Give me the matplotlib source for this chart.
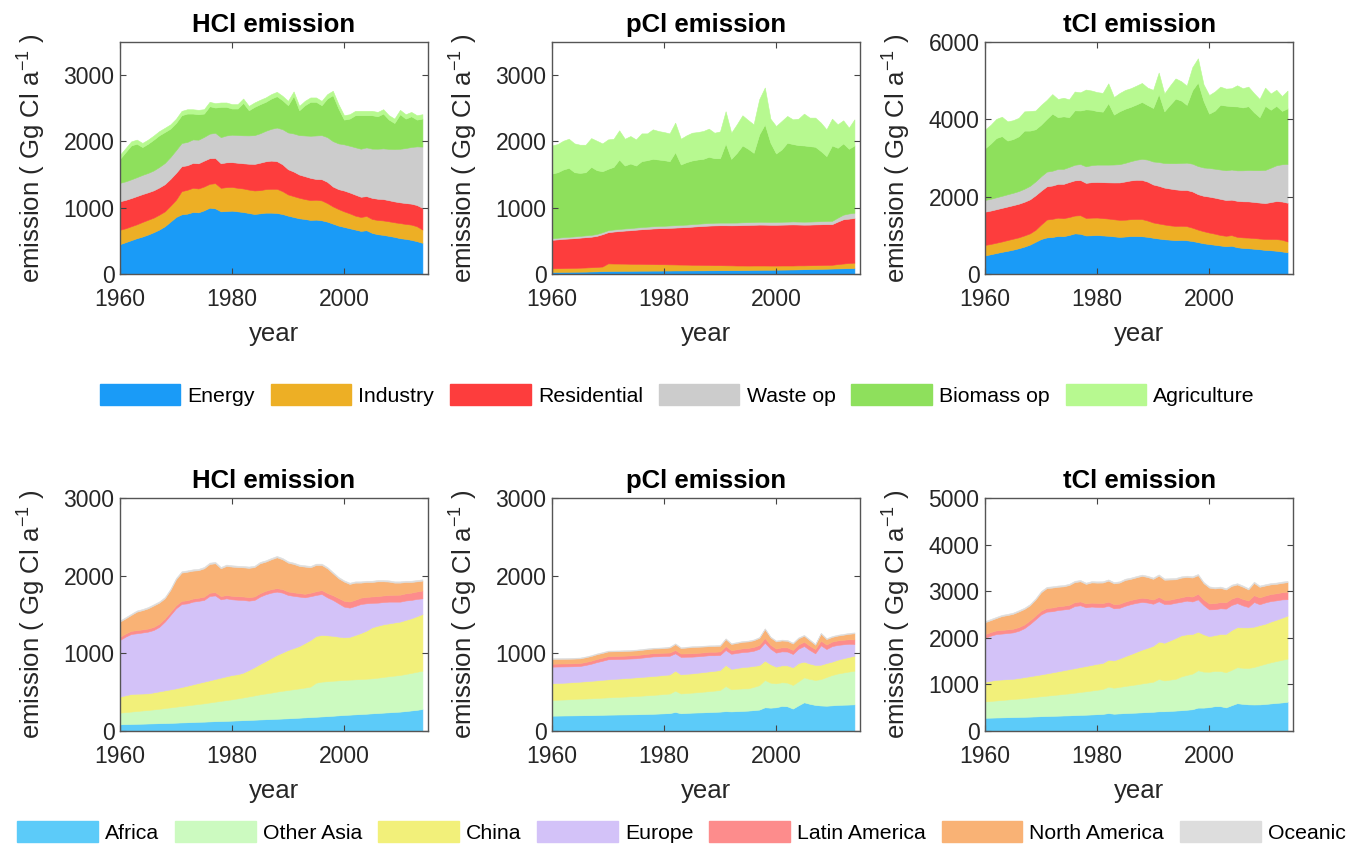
import numpy as np
import matplotlib
matplotlib.use('Agg')
import matplotlib.pyplot as plt
from matplotlib.patches import Patch

plt.rcParams['font.family'] = ['Liberation Sans', 'DejaVu Sans']
plt.rcParams['mathtext.default'] = 'regular'

# years 1960-2014
years = list(range(1960, 2015))

# ---- sector split, HCl (Gg Cl / yr) ----
hcl_energy = [450, 480, 510, 540, 565, 595, 630, 670, 720, 790,
              860, 900, 910, 935, 930, 960, 1000, 990, 945, 950,
              955, 945, 935, 920, 905, 915, 925, 925, 920, 905,
              880, 860, 840, 830, 815, 820, 810, 790, 760, 730,
              710, 690, 670, 650, 660, 620, 600, 590, 575, 560,
              540, 530, 515, 495, 470]
hcl_industry = [217, 210, 210, 210, 220, 223, 220, 225, 225, 240,
                260, 350, 360, 365, 360, 360, 360, 380, 355, 360,
                358, 355, 355, 353, 355, 350, 355, 360, 365, 345,
                320, 315, 310, 300, 300, 300, 300, 280, 260, 250,
                235, 225, 210, 210, 215, 210, 215, 218, 220, 220,
                228, 225, 230, 225, 200]
hcl_residential = [430, 428, 425, 425, 420, 414, 412, 410, 410, 405,
                   405, 376, 370, 375, 380, 390, 387, 380, 370, 375,
                   374, 378, 380, 390, 400, 414, 420, 425, 417, 405,
                   380, 370, 350, 345, 335, 313, 320, 320, 300, 300,
                   314, 315, 317, 305, 300, 318, 320, 322, 318, 315,
                   313, 315, 316, 320, 328]
hcl_waste = [278, 280, 283, 286, 290, 293, 300, 310, 320, 330,
             344, 350, 352, 355, 356, 358, 370, 380, 395, 405,
             414, 418, 422, 428, 435, 444, 460, 480, 507, 530,
             555, 575, 595, 615, 635, 657, 665, 675, 685, 690,
             697, 705, 715, 725, 735, 743, 755, 765, 775, 790,
             808, 830, 855, 885, 924]
hcl_biomass = [363, 441, 512, 504, 420, 440, 464, 477, 467, 428,
               409, 419, 428, 390, 384, 352, 414, 381, 456, 431,
               395, 400, 489, 379, 426, 438, 437, 457, 473, 437,
               411, 568, 375, 456, 512, 507, 451, 582, 693, 526,
               373, 409, 483, 505, 485, 504, 489, 525, 441, 393,
               521, 444, 463, 404, 422]
hcl_agri = [60, 60, 60, 62, 62, 62, 62, 63, 63, 64,
            64, 65, 65, 65, 66, 66, 66, 66, 66, 66,
            66, 66, 66, 66, 66, 66, 66, 66, 66, 66,
            66, 66, 66, 66, 66, 66, 66, 66, 66, 66,
            66, 66, 66, 66, 66, 66, 66, 66, 66, 66,
            66, 66, 66, 66, 66]

# ---- sector split, pCl ----
pcl_energy = [30, 31, 32, 33, 34, 35, 36, 38, 40, 43,
              45, 46, 47, 48, 48, 49, 50, 50, 51, 51,
              52, 52, 53, 53, 54, 54, 55, 55, 56, 56,
              57, 57, 58, 58, 59, 60, 62, 63, 64, 64,
              65, 66, 67, 68, 70, 72, 74, 76, 78, 80,
              82, 84, 86, 88, 91]
pcl_industry = [55, 56, 57, 58, 59, 60, 62, 64, 66, 70,
                115, 112, 110, 108, 106, 104, 102, 100, 98, 96,
                95, 93, 91, 89, 87, 85, 83, 81, 79, 77,
                76, 74, 72, 70, 69, 67, 66, 65, 64, 63,
                62, 62, 61, 60, 60, 58, 58, 57, 57, 57,
                57, 65, 72, 78, 80]
pcl_residential = [430, 435, 441, 444, 447, 453, 457, 460, 469, 487,
                   470, 482, 491, 499, 506, 515, 523, 530, 537, 543,
                   545, 551, 556, 562, 567, 575, 582, 589, 595, 600,
                   602, 604, 604, 607, 610, 613, 614, 617, 616, 615,
                   615, 616, 618, 620, 616, 614, 613, 615, 615, 615,
                   613, 641, 667, 669, 674]
pcl_waste = [25, 25, 26, 26, 27, 27, 28, 28, 29, 30,
             30, 31, 31, 32, 32, 33, 33, 34, 34, 35,
             35, 36, 36, 37, 37, 38, 38, 39, 39, 40,
             40, 40, 41, 41, 42, 42, 42, 43, 43, 43,
             44, 44, 44, 45, 45, 45, 46, 46, 47, 48,
             50, 60, 70, 78, 80]
pcl_biomass = [975, 988, 1020, 1040, 968, 950, 952, 1026, 962, 920,
               926, 945, 1048, 949, 975, 935, 994, 1003, 1017, 1002,
               990, 970, 1102, 911, 942, 960, 969, 973, 999, 974,
               972, 1195, 962, 1052, 1159, 1107, 1044, 1318, 1471, 1195,
               1032, 1091, 1190, 1167, 1153, 1150, 1138, 1125, 1057, 978,
               1137, 1054, 1075, 976, 1014]
pcl_agri = [424, 425, 434, 439, 435, 425, 415, 434, 444, 420,
            444, 424, 440, 404, 414, 394, 419, 404, 445, 430,
            424, 419, 445, 388, 404, 419, 414, 420, 424, 384,
            403, 485, 394, 430, 455, 434, 430, 530, 555, 363,
            414, 429, 404, 373, 399, 480, 430, 440, 429, 404,
            404, 354, 348, 318, 394]

# ---- regional split, HCl ----
rhcl_africa = [86, 88, 90, 92, 94, 96, 98, 100, 102, 104,
               107, 110, 112, 115, 118, 120, 123, 126, 128, 130,
               133, 136, 139, 142, 145, 148, 151, 154, 157, 160,
               163, 167, 171, 175, 179, 183, 187, 191, 196, 201,
               206, 210, 214, 218, 222, 227, 231, 236, 240, 245,
               249, 256, 264, 272, 283]
rhcl_oasia = [150, 155, 160, 165, 170, 174, 180, 186, 193, 200,
              206, 212, 218, 224, 230, 236, 244, 252, 260, 268,
              275, 284, 293, 303, 313, 324, 332, 340, 350, 358,
              365, 371, 377, 384, 392, 439, 448, 450, 451, 451,
              451, 451, 451, 451, 451, 451, 455, 460, 465, 468,
              472, 478, 484, 490, 494]
rhcl_china = [206, 217, 226, 223, 218, 215, 219, 224, 228, 232,
              236, 244, 253, 261, 270, 279, 285, 292, 299, 306,
              313, 311, 319, 340, 364, 391, 417, 446, 472, 492,
              515, 530, 546, 573, 601, 601, 601, 591, 578, 563,
              549, 551, 571, 593, 619, 657, 669, 677, 680, 684,
              687, 696, 703, 716, 729]
rhcl_europe = [730, 755, 773, 778, 786, 794, 803, 830, 885, 957,
               1030, 1069, 1060, 1065, 1057, 1052, 1086, 1075, 1008, 1004,
               974, 959, 936, 893, 865, 867, 860, 841, 815, 771,
               708, 672, 636, 589, 563, 528, 528, 489, 462, 429,
               395, 376, 374, 373, 352, 315, 297, 287, 280, 268,
               257, 250, 236, 222, 202]
rhcl_latam = [40, 40, 40, 40, 40, 40, 40, 40, 40, 40,
              40, 40, 40, 40, 40, 42, 42, 42, 42, 42,
              45, 45, 45, 45, 45, 45, 45, 45, 45, 45,
              45, 45, 45, 45, 45, 48, 50, 55, 60, 68,
              75, 78, 80, 82, 82, 82, 84, 85, 86, 88,
              90, 92, 94, 96, 100]
rhcl_namerica = [196, 195, 205, 238, 247, 260, 275, 272, 260, 282,
                 334, 364, 367, 359, 355, 365, 370, 372, 357, 375,
                 376, 375, 375, 377, 378, 384, 375, 384, 397, 384,
                 371, 365, 350, 350, 327, 338, 323, 318, 283, 254,
                 247, 227, 220, 193, 192, 186, 191, 182, 172, 157,
                 155, 146, 137, 131, 128]
rhcl_oceanic = [15, 15, 15, 15, 15, 16, 16, 16, 16, 16,
                17, 17, 17, 17, 17, 17, 17, 17, 17, 17,
                17, 17, 17, 17, 17, 17, 17, 17, 17, 17,
                17, 17, 17, 17, 17, 17, 17, 17, 17, 17,
                16, 16, 16, 16, 16, 16, 16, 16, 16, 16,
                16, 16, 16, 16, 16]

# ---- regional split, pCl ----
rpcl_africa = [197, 198, 199, 200, 201, 202, 203, 204, 206, 208,
               210, 211, 212, 213, 214, 215, 217, 219, 221, 224,
               227, 230, 245, 228, 232, 236, 238, 240, 243, 246,
               249, 255, 252, 255, 258, 262, 268, 275, 305, 300,
               305, 322, 318, 288, 330, 369, 350, 335, 328, 325,
               330, 335, 338, 340, 343]
rpcl_oasia = [202, 204, 206, 208, 211, 214, 215, 217, 219, 221,
              223, 225, 228, 230, 233, 236, 238, 241, 243, 246,
              249, 252, 274, 255, 257, 258, 262, 266, 270, 274,
              279, 324, 285, 288, 290, 287, 300, 315, 352, 322,
              309, 305, 305, 304, 310, 322, 320, 322, 340, 370,
              391, 405, 415, 425, 434]
rpcl_china = [215, 216, 216, 217, 218, 219, 222, 225, 227, 230,
              232, 234, 235, 237, 238, 240, 241, 242, 243, 244,
              245, 246, 258, 246, 247, 248, 250, 252, 254, 255,
              257, 271, 262, 268, 275, 279, 270, 258, 249, 238,
              214, 218, 222, 228, 235, 202, 198, 193, 185, 180,
              172, 178, 183, 188, 193]
rpcl_europe = [214, 212, 210, 207, 204, 202, 210, 220, 235, 245,
               258, 255, 252, 250, 248, 245, 248, 250, 253, 248,
               245, 240, 223, 225, 220, 215, 212, 210, 208, 200,
               194, 193, 195, 194, 193, 193, 195, 210, 231, 200,
               181, 180, 178, 171, 185, 201, 175, 150, 250, 180,
               200, 190, 180, 170, 150]
rpcl_latam = [38, 38, 38, 38, 38, 38, 39, 39, 40, 40,
              40, 40, 40, 40, 40, 41, 41, 41, 42, 42,
              42, 42, 43, 43, 43, 44, 44, 44, 45, 45,
              45, 50, 46, 47, 48, 48, 49, 50, 60, 50,
              52, 52, 53, 53, 54, 55, 55, 55, 60, 58,
              58, 58, 58, 58, 58]
rpcl_namerica = [60, 60, 60, 60, 60, 60, 60, 61, 61, 61,
                 61, 61, 60, 60, 60, 60, 60, 60, 59, 59,
                 59, 65, 75, 70, 75, 80, 78, 75, 72, 73,
                 73, 90, 80, 82, 84, 84, 86, 90, 115, 95,
                 92, 88, 85, 82, 80, 77, 70, 55, 90, 70,
                 60, 62, 65, 70, 80]
rpcl_oceanic = [10, 10, 10, 10, 10, 10, 10, 10, 10, 10,
                10, 10, 10, 10, 10, 10, 10, 10, 10, 10,
                10, 10, 10, 10, 10, 10, 10, 10, 10, 10,
                10, 10, 10, 10, 10, 10, 10, 10, 10, 10,
                11, 11, 11, 11, 11, 11, 11, 11, 11, 11,
                11, 11, 11, 11, 11]

sector_names = ['Energy', 'Industry', 'Residential', 'Waste op', 'Biomass op', 'Agriculture']
sector_colors = ['#1A9BF7', '#EDAF25', '#FD3D3D', '#CCCCCC', '#8EE05C', '#B7F990']
region_names = ['Africa', 'Other Asia', 'China', 'Europe', 'Latin America', 'North America', 'Oceanic']
region_colors = ['#5CCBF9', '#CCFAC0', '#F2F07A', '#D3C2F8', '#FD8C8C', '#F9B275', '#DDDDDD']

hcl_sectors = [hcl_energy, hcl_industry, hcl_residential, hcl_waste, hcl_biomass, hcl_agri]
pcl_sectors = [pcl_energy, pcl_industry, pcl_residential, pcl_waste, pcl_biomass, pcl_agri]
# total chlorine = HCl + particulate Cl
tcl_sectors = [np.add(a, b) for a, b in zip(hcl_sectors, pcl_sectors)]

hcl_regions = [rhcl_africa, rhcl_oasia, rhcl_china, rhcl_europe, rhcl_latam, rhcl_namerica, rhcl_oceanic]
pcl_regions = [rpcl_africa, rpcl_oasia, rpcl_china, rpcl_europe, rpcl_latam, rpcl_namerica, rpcl_oceanic]
tcl_regions = [np.add(a, b) for a, b in zip(hcl_regions, pcl_regions)]

fig = plt.figure(figsize=(13.71, 8.48), dpi=100)

lefts = [0.0875, 0.4026, 0.7185]
w = 0.2247
top_y, top_h = 0.6769, 0.2736
bot_y, bot_h = 0.138, 0.2748


def draw_panel(ax, layers, colors, title, ymax, ystep):
    polys = ax.stackplot(years, *layers, colors=colors, linewidth=0.4)
    for p, c in zip(polys, colors):
        p.set_edgecolor(c)
    ax.set_xlim(1960, 2015)
    ax.set_ylim(0, ymax)
    ax.set_xticks([1960, 1980, 2000])
    ax.set_yticks(range(0, ymax + 1, ystep))
    ax.tick_params(direction='in', top=True, right=True, length=4, width=0.8,
                   color='#444444', labelsize=16.5, labelcolor='#262626')
    ax.tick_params(axis='x', pad=10)
    ax.tick_params(axis='y', pad=4)
    for s in ax.spines.values():
        s.set_color('#555555')
        s.set_linewidth(1.0)
    ax.set_title(title, fontsize=18.5, fontweight='bold', pad=7)
    ax.set_xlabel('year', fontsize=18.5, color='#262626', labelpad=8)
    ax.set_ylabel('emission ( Gg Cl a$^{-1}$ )', fontsize=18.5, color='#262626', labelpad=11)


titles = ['HCl emission', 'pCl emission', 'tCl emission']
top_sets = [hcl_sectors, pcl_sectors, tcl_sectors]
bot_sets = [hcl_regions, pcl_regions, tcl_regions]
top_lims = [(3500, 1000), (3500, 1000), (6000, 2000)]
bot_lims = [(3000, 1000), (3000, 1000), (5000, 1000)]

for i in range(3):
    ax = fig.add_axes([lefts[i], top_y, w, top_h])
    draw_panel(ax, top_sets[i], sector_colors, titles[i], *top_lims[i])
    ax = fig.add_axes([lefts[i], bot_y, w, bot_h])
    draw_panel(ax, bot_sets[i], region_colors, titles[i], *bot_lims[i])

# legends
sec_handles = [Patch(facecolor=c, edgecolor=c) for c in sector_colors]
fig.legend(sec_handles, sector_names, loc='center', bbox_to_anchor=(0.494, 0.534),
           ncol=6, frameon=False, fontsize=15.3, handlelength=3.8, handleheight=1.1,
           handletextpad=0.33, columnspacing=0.75, borderpad=0)
reg_handles = [Patch(facecolor=c, edgecolor=c) for c in region_colors]
fig.legend(reg_handles, region_names, loc='center', bbox_to_anchor=(0.497, 0.019),
           ncol=7, frameon=False, fontsize=15.3, handlelength=3.8, handleheight=1.1,
           handletextpad=0.33, columnspacing=0.75, borderpad=0)

fig.savefig('out.png', dpi=100)
